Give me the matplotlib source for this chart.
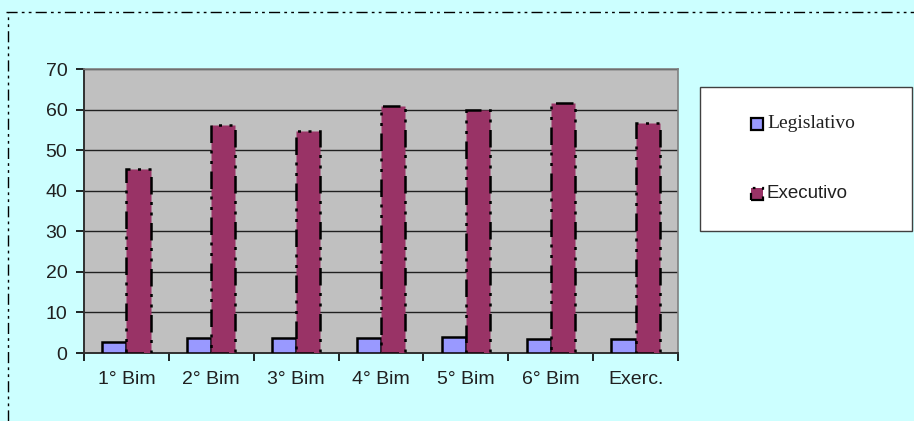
import numpy as np
import matplotlib
matplotlib.use("Agg")
import matplotlib.pyplot as plt
from matplotlib.patches import Rectangle
from matplotlib.lines import Line2D

# =========================
# DATA
# =========================
categories = ["1° Bim", "2° Bim", "3° Bim", "4° Bim", "5° Bim", "6° Bim", "Exerc."]
legislativo = [2.8, 3.8, 3.8, 3.8, 3.9, 3.5, 3.5]
executivo = [45.4, 56.2, 54.7, 61.0, 60.0, 61.7, 56.6]
series_names = ["Legislativo", "Executivo"]

# =========================
# STYLE
# =========================
W, H = 914, 421
bg_color = "#CCFFFF"
plot_bg = "#C0C0C0"
leg_color = "#9999FF"
exe_color = "#993366"
bar_w = 0.285
dash_dot_dot = (0, (7, 3, 1.2, 3, 1.2, 3))

plt.rcParams["font.family"] = ["Liberation Sans", "DejaVu Sans"]

fig = plt.figure(figsize=(W / 100, H / 100), dpi=100, facecolor=bg_color)
ax = fig.add_axes([84 / W, 1 - 353 / H, (678 - 84) / W, (353 - 69) / H])
ax.set_facecolor(plot_bg)

x = np.arange(len(categories))
ax.bar(x - bar_w / 2, legislativo, bar_w, color=leg_color,
       edgecolor="black", linewidth=1.8, zorder=3)
ax.bar(x + bar_w / 2, executivo, bar_w, color=exe_color,
       edgecolor="black", linewidth=1.8, linestyle=dash_dot_dot, zorder=3)

ax.set_xlim(-0.5, len(categories) - 0.5)
ax.set_ylim(0, 70)
ax.set_yticks(np.arange(0, 71, 10))
ax.yaxis.grid(True, color="#202020", linewidth=1.0, zorder=1)
ax.set_axisbelow(True)

# category labels at centres, tick marks at category boundaries
ax.set_xticks(x)
ax.set_xticklabels(categories)
ax.set_xticks(np.arange(-0.5, len(categories), 1), minor=True)
ax.tick_params(axis="x", which="major", length=0, pad=13,
               labelsize=14, labelcolor="#202020")
ax.tick_params(axis="x", which="minor", length=6, width=1.2, color="black",
               direction="out")
ax.tick_params(axis="y", length=6, width=1.2, color="black",
               labelsize=14, labelcolor="#202020", pad=6)

for side in ["top", "right"]:
    ax.spines[side].set_color("#808080")
    ax.spines[side].set_linewidth(1.2)
for side in ["left", "bottom"]:
    ax.spines[side].set_color("#303030")
    ax.spines[side].set_linewidth(1.4)

# legend box
fig.patches.append(Rectangle((700 / W, 1 - 231 / H), 212 / W, 144 / H,
                             transform=fig.transFigure, facecolor="white",
                             edgecolor="#404040", linewidth=1.0, zorder=5))
fig.patches.append(Rectangle((751 / W, 1 - 130 / H), 12 / W, 12 / H,
                             transform=fig.transFigure, facecolor=leg_color,
                             edgecolor="black", linewidth=1.6, zorder=6))
fig.patches.append(Rectangle((751 / W, 1 - 200 / H), 12 / W, 12 / H,
                             transform=fig.transFigure, facecolor=exe_color,
                             edgecolor="black", linewidth=1.6,
                             linestyle=dash_dot_dot, zorder=6))
fig.text(767 / W, 1 - 124 / H, series_names[0], va="center", ha="left",
         fontsize=14, family=["Liberation Serif", "DejaVu Serif"],
         color="#202020", zorder=7)
fig.text(767 / W, 1 - 194 / H, series_names[1], va="center", ha="left",
         fontsize=13.5, color="#202020", zorder=7)

# dash-dot frame around the chart area
fig.add_artist(Line2D([6 / W, 1], [1 - 12 / H, 1 - 12 / H], color="black",
                      linewidth=1.0, linestyle=(0, (8, 3, 2, 3, 2, 3))))
fig.add_artist(Line2D([8 / W, 8 / W], [0, 1 - 12 / H], color="black",
                      linewidth=1.0, linestyle=(0, (8, 3, 2, 3, 2, 3))))

fig.savefig("out.png", dpi=100, facecolor=bg_color)
